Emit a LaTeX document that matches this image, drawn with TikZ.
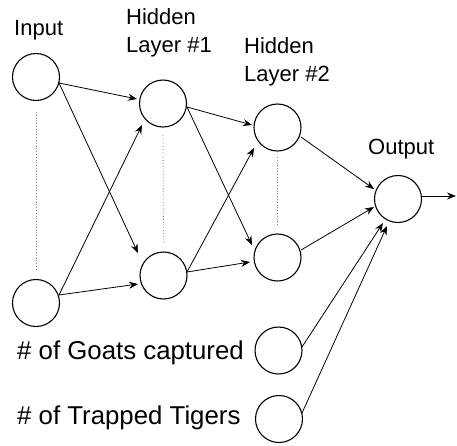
\documentclass[tikz,border=0pt]{standalone}
\usepackage{fontspec}
\setmainfont{Liberation Sans}
\usetikzlibrary{arrows.meta,calc}
\begin{document}
\begin{tikzpicture}[x=1pt,y=-1pt,
 neuron/.style={circle,draw,line width=1.1pt,minimum size=47pt,inner sep=0pt},
 conn/.style={line width=0.8pt,-{Stealth[length=9pt,width=7pt,inset=3pt]}},
 dots/.style={gray,dotted,line width=0.8pt},
 lbl/.style={font=\fontsize{22}{28}\selectfont,anchor=base west,inner sep=0pt,align=left},
 biglbl/.style={font=\fontsize{25.8}{30}\selectfont,anchor=base west,inner sep=0pt}]
\useasboundingbox (0,0) rectangle (457,445);
% neurons
\node[neuron] (i1) at (36,77) {};
\node[neuron] (i2) at (36,303) {};
\node[neuron] (h1a) at (163,103.5) {};
\node[neuron] (h1b) at (163.5,275.5) {};
\node[neuron] (h2a) at (277.5,127.5) {};
\node[neuron] (h2b) at (277.5,257.5) {};
\node[neuron] (out) at (398,199) {};
\node[neuron] (goat) at (278.5,350.5) {};
\node[neuron] (tiger) at (279,419) {};
\coordinate (end) at (456,196);
% labels
\node[lbl] (tin) at (14,35) {Input};
\node[lbl] (th1) at (126,52) {Hidden\\Layer \#1};
\node[lbl] (th2) at (244,81) {Hidden\\Layer \#2};
\node[lbl] (tout) at (368,154) {Output};
\node[biglbl] (tgoat) at (17,359) {\# of Goats captured};
\node[biglbl] (ttiger) at (17,424) {\# of Trapped Tigers};
% dotted
\draw[dots] ($(i1)+(0,35)$) -- ($(i2)+(0,-33)$);
\draw[dots] ($(h1a)+(0,31.5)$) -- ($(h1b)+(0,-33.5)$);
\draw[dots] ($(h2a)+(0,29.5)$) -- ($(h2b)+(0,-30.5)$);
% connections
\draw[conn] ($(i1)+(23,6)$) -- ($(h1a)+(-26,-4.5)$);
\draw[conn] ($(i1)+(23,6)$) -- ($(h1b)+(-25.5,-22.5)$);
\draw[conn] ($(i2)+(23,-8)$) -- ($(h1a)+(-21,21.5)$);
\draw[conn] ($(i2)+(23,-8)$) -- ($(h1b)+(-25.5,8.5)$);
\draw[conn] ($(h1a)+(24,3.5)$) -- ($(h2a)+(-25.5,-2.5)$);
\draw[conn] ($(h1a)+(24,3.5)$) -- ($(h2b)+(-25.5,-12.5)$);
\draw[conn] ($(h1b)+(23.5,-3.5)$) -- ($(h2a)+(-23.5,20.5)$);
\draw[conn] ($(h1b)+(23.5,-3.5)$) -- ($(h2b)+(-27.5,4.5)$);
\draw[conn] ($(h2a)+(23.5,9.5)$) -- ($(out)+(-24,-10)$);
\draw[conn] ($(h2b)+(23.5,-7.5)$) -- ($(out)+(-24,8)$);
\draw[conn] ($(goat)+(23.5,-3.5)$) -- ($(out)+(-15,24)$);
\draw[conn] ($(tiger)+(23,-6)$) -- ($(out)+(-11,27)$);
\draw[conn] ($(out)+(24,-3)$) -- (end);
\end{tikzpicture}
\end{document}
